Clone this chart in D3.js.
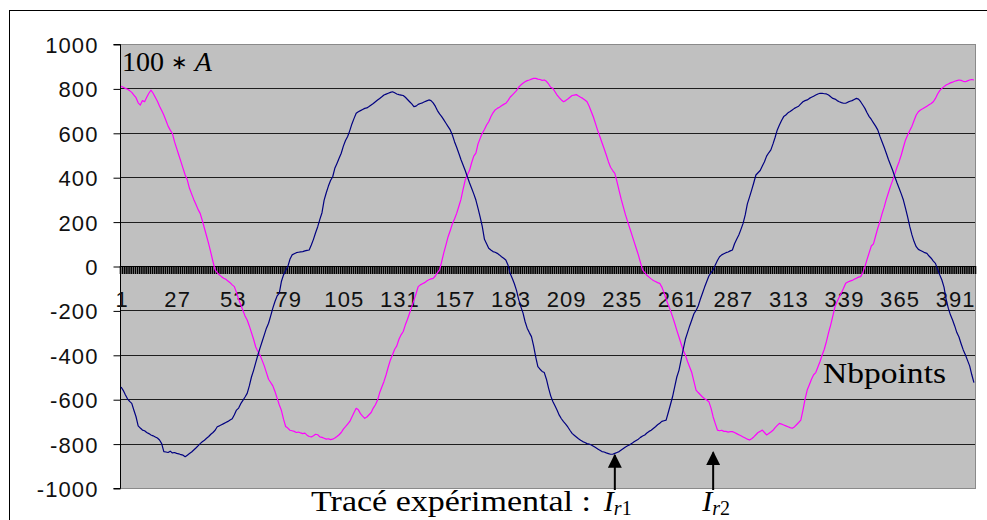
<!DOCTYPE html>
<html>
<head>
<meta charset="utf-8">
<script src="https://cdn.jsdelivr.net/npm/d3@7"></script>
<style>
  html, body { margin: 0; padding: 0; background: #fff; }
  svg { display: block; }
</style>
</head>
<body>
<svg id="chart" width="987" height="520"></svg>
<script>
// Rotor currents (x100 A) sampled over 400 points
const yTicks = [-1000, -800, -600, -400, -200, 0, 200, 400, 600, 800, 1000];
const xTickLabels = [1, 27, 53, 79, 105, 131, 157, 183, 209, 235, 261, 287, 313, 339, 365, 391];

// Ir1 (navy)
const seriesIr1 = [
  -545, -560, -580, -598, -610, -619, -650, -679, -720, -730,
  -739, -742, -750, -755, -761, -765, -770, -775, -784, -800,
  -836, -838, -840, -834, -842, -840, -844, -846, -850, -852,
  -859, -852, -845, -838, -829, -820, -810, -800, -792, -785,
  -776, -768, -758, -750, -740, -724, -720, -715, -710, -705,
  -700, -694, -688, -670, -649, -640, -620, -605, -590, -574,
  -540, -500, -470, -435, -401, -370, -340, -310, -280, -258,
  -225, -190, -160, -135, -123, -70, -40, -20, -3, 30,
  50, 55, 60, 62, 64, 65, 68, 70, 72, 95,
  120, 150, 177, 210, 240, 297, 330, 360, 385, 402,
  440, 462, 485, 508, 540, 565, 583, 610, 640, 665,
  688, 695, 700, 705, 710, 712, 718, 725, 732, 740,
  748, 755, 762, 770, 774, 778, 782, 785, 780, 775,
  772, 770, 768, 760, 750, 740, 730, 718, 720, 728,
  732, 735, 740, 744, 748, 745, 735, 720, 700, 685,
  673, 658, 643, 628, 613, 590, 560, 535, 508, 480,
  455, 430, 402, 375, 350, 325, 297, 260, 220, 177,
  120, 100, 80, 72, 65, 62, 57, 50, 42, 35,
  27, 5, -33, -55, -80, -110, -150, -183, -210, -250,
  -280, -300, -318, -360, -410, -453, -465, -475, -480, -510,
  -550, -585, -610, -630, -650, -672, -688, -701, -712, -725,
  -740, -754, -762, -770, -778, -785, -791, -795, -800, -802,
  -806, -812, -818, -824, -830, -836, -838, -842, -845, -848,
  -848, -844, -840, -836, -829, -822, -815, -810, -805, -799,
  -792, -786, -780, -772, -766, -761, -752, -745, -740, -732,
  -724, -715, -708, -700, -697, -694, -660, -625, -589, -545,
  -500, -470, -423, -375, -330, -300, -270, -243, -215, -200,
  -180, -150, -123, -95, -70, -45, -30, -18, 5, 25,
  42, 50, 55, 60, 63, 68, 72, 100, 120, 140,
  165, 192, 230, 280, 310, 342, 375, 410, 420, 430,
  450, 470, 495, 510, 523, 550, 580, 613, 635, 655,
  673, 680, 690, 696, 703, 710, 715, 720, 730, 740,
  745, 748, 755, 760, 765, 770, 775, 778, 778, 776,
  775, 770, 762, 755, 752, 745, 740, 736, 733, 733,
  738, 742, 745, 750, 755, 752, 740, 725, 710, 690,
  673, 660, 645, 630, 613, 585, 560, 535, 508, 480,
  455, 430, 402, 375, 350, 325, 297, 260, 220, 177,
  140, 110, 87, 75, 70, 65, 60, 57, 45, 35,
  22, 12, -15, -40, -63, -95, -150, -190, -220, -243,
  -270, -300, -320, -350, -378, -400, -425, -450, -490, -525
];

// Ir2 (magenta)
const seriesIr2 = [
  810, 805, 800, 796, 790, 782, 770, 758, 735, 725,
  745, 740, 760, 778, 792, 778, 760, 742, 720, 700,
  680, 655, 630, 612, 597, 560, 530, 500, 470, 440,
  410, 387, 350, 325, 300, 278, 255, 237, 205, 170,
  135, 100, 60, 20, -18, -30, -40, -48, -55, -60,
  -68, -75, -85, -93, -120, -150, -175, -200, -225, -243,
  -270, -300, -330, -365, -385, -401, -425, -450, -480, -510,
  -525, -540, -565, -595, -625, -650, -690, -723, -730, -740,
  -742, -745, -750, -748, -752, -755, -753, -762, -768, -770,
  -765, -758, -760, -770, -772, -776, -780, -778, -782, -780,
  -775, -768, -760, -750, -735, -724, -712, -700, -680, -660,
  -641, -648, -665, -676, -686, -680, -670, -660, -640, -625,
  -604, -570, -545, -520, -490, -455, -423, -400, -375, -360,
  -330, -310, -295, -265, -240, -212, -183, -155, -125, -93,
  -85, -80, -75, -68, -62, -58, -56, -45, -30, -18,
  20, 60, 95, 132, 160, 190, 212, 237, 268, 300,
  345, 387, 410, 430, 465, 495, 508, 550, 575, 598,
  615, 635, 650, 672, 690, 703, 710, 715, 722, 728,
  733, 745, 760, 770, 780, 790, 805, 815, 823, 830,
  835, 838, 842, 845, 845, 842, 840, 836, 838, 832,
  820, 805, 800, 785, 770, 758, 748, 740, 745, 752,
  760, 768, 770, 772, 766, 760, 755, 748, 740, 720,
  695, 670, 640, 610, 583, 555, 528, 500, 470, 445,
  430, 417, 380, 340, 300, 265, 230, 200, 170, 140,
  110, 80, 50, 15, -18, -30, -42, -50, -58, -65,
  -70, -75, -78, -95, -120, -150, -175, -200, -228, -258,
  -290, -320, -350, -380, -401, -430, -455, -480, -520, -559,
  -570, -580, -590, -598, -604, -611, -640, -680, -710, -739,
  -742, -740, -745, -745, -748, -746, -746, -750, -755, -760,
  -765, -770, -775, -780, -784, -778, -770, -760, -750, -745,
  -739, -750, -761, -755, -748, -740, -728, -718, -709, -712,
  -716, -720, -724, -728, -731, -725, -715, -705, -694, -650,
  -600, -559, -535, -510, -490, -480, -455, -430, -401, -375,
  -340, -300, -265, -225, -183, -160, -140, -120, -100, -78,
  -72, -68, -65, -60, -55, -50, -48, -30, -3, 30,
  60, 90, 100, 135, 170, 200, 235, 265, 300, 330,
  360, 387, 415, 445, 470, 500, 535, 568, 590, 610,
  630, 655, 680, 695, 703, 708, 714, 720, 726, 732,
  740, 755, 775, 790, 800, 808, 815, 820, 825, 828,
  832, 835, 838, 836, 832, 830, 834, 838, 840, 838
];

const points = d3.range(1, seriesIr1.length + 1);

const svg = d3.select("#chart");
const plot = { left: 120, right: 975, top: 44, bottom: 488 };

// outer frame
svg.append("rect")
  .attr("x", 9.5).attr("y", 10.5)
  .attr("width", 1000).attr("height", 600)
  .attr("fill", "#fff").attr("stroke", "#000").attr("stroke-width", 1);

const x = d3.scaleBand().domain(points).range([plot.left, plot.right]).padding(0);
const y = d3.scaleLinear().domain([-1000, 1000]).range([plot.bottom, plot.top]);
const xc = d => x(d) + x.bandwidth() / 2;

// plot area
svg.append("rect")
  .attr("x", plot.left + 0.5).attr("y", plot.top + 0.5)
  .attr("width", plot.right - plot.left).attr("height", plot.bottom - plot.top)
  .attr("fill", "#c0c0c0").attr("stroke", "#8a8a8a").attr("stroke-width", 1);

// horizontal gridlines
svg.append("g").selectAll("line")
  .data(yTicks.filter(v => v > -1000 && v < 1000 && v !== 0))
  .join("line")
  .attr("x1", plot.left).attr("x2", plot.right)
  .attr("y1", d => Math.round(y(d)) + 0.5).attr("y2", d => Math.round(y(d)) + 0.5)
  .attr("stroke", "#1e1e1e").attr("stroke-width", 1);

// y axis
const yAxis = svg.append("g")
  .attr("transform", `translate(${plot.left + 0.5},0.5)`)
  .call(d3.axisLeft(y).tickValues(yTicks).tickSize(7).tickPadding(15).tickFormat(d => String(d)));
yAxis.select(".domain").attr("stroke", "#000").attr("d", `M-7,${plot.top}H0V${plot.bottom}H-7`);
yAxis.selectAll(".tick line").attr("stroke", "#000");
yAxis.selectAll(".tick text")
  .attr("font-family", "'Liberation Sans', Arial, sans-serif")
  .attr("font-size", 22).attr("letter-spacing", 1.1)
  .attr("fill", "#111").attr("dy", "0.36em");

// category axis through zero, one tick per category boundary
const y0 = Math.round(y(0));
const xAxis = svg.append("g");
xAxis.append("line")
  .attr("x1", plot.left).attr("x2", plot.right)
  .attr("y1", y0 + 0.5).attr("y2", y0 + 0.5)
  .attr("stroke", "#000").attr("stroke-width", 1.2);
xAxis.selectAll("line.tk")
  .data(points.concat([points.length + 1]))
  .join("line").attr("class", "tk")
  .attr("x1", d => (d <= points.length ? x(d) : plot.right) + 0.5)
  .attr("x2", d => (d <= points.length ? x(d) : plot.right) + 0.5)
  .attr("y1", y0).attr("y2", y0 + 8)
  .attr("stroke", "#000").attr("stroke-width", 1.6);
xAxis.selectAll("text")
  .data(xTickLabels)
  .join("text")
  .attr("x", d => xc(d) + 1).attr("y", y0 + 41)
  .attr("text-anchor", "middle")
  .attr("font-family", "'Liberation Sans', Arial, sans-serif")
  .attr("font-size", 22).attr("letter-spacing", 1.1)
  .attr("fill", "#111")
  .text(d => d);

// series lines
const line = d3.line().x((d, i) => xc(points[i])).y(d => y(d));
svg.append("path").datum(seriesIr2)
  .attr("d", line).attr("fill", "none")
  .attr("stroke", "#ff00ff").attr("stroke-width", 1.2).attr("stroke-linejoin", "round");
svg.append("path").datum(seriesIr1)
  .attr("d", line).attr("fill", "none")
  .attr("stroke", "#000080").attr("stroke-width", 1.2).attr("stroke-linejoin", "round");

// annotations
const serif = "'Liberation Serif', 'Times New Roman', serif";
const unit = svg.append("text")
  .attr("x", 122).attr("y", 71)
  .attr("font-family", serif).attr("font-size", 28).attr("fill", "#000");
unit.append("tspan").text("100 ");
unit.append("tspan").attr("font-family", "'DejaVu Sans', sans-serif").attr("font-size", 20)
  .attr("dy", -2).text("\u2217");
unit.append("tspan").attr("dy", 2).text(" ");
unit.append("tspan").attr("font-style", "italic").text("A");

svg.append("text")
  .attr("x", 823).attr("y", 383)
  .attr("font-family", serif).attr("font-size", 29).attr("fill", "#000")
  .attr("textLength", 123).attr("lengthAdjust", "spacingAndGlyphs")
  .text("Nbpoints");

svg.append("text")
  .attr("x", 311).attr("y", 511)
  .attr("font-family", serif).attr("font-size", 30).attr("fill", "#000")
  .attr("textLength", 280).attr("lengthAdjust", "spacingAndGlyphs")
  .text("Trac\u00e9 exp\u00e9rimental :");

// arrows pointing to Ir1 minimum and Ir2
const defs = svg.append("defs");
defs.append("marker").attr("id", "head")
  .attr("viewBox", "0 0 10 10").attr("refX", 9).attr("refY", 5)
  .attr("markerWidth", 7).attr("markerHeight", 7).attr("orient", "auto")
  .append("path").attr("d", "M0,0L10,5L0,10Z").attr("fill", "#000");

const arrows = [
  { point: 232, value: -852, sub: "r1" },
  { point: 278, value: -840, sub: "r2" }
];
arrows.forEach(a => {
  const ax = xc(a.point);
  svg.append("line")
    .attr("x1", ax).attr("x2", ax)
    .attr("y1", 490).attr("y2", y(a.value))
    .attr("stroke", "#000").attr("stroke-width", 2)
    .attr("marker-end", "url(#head)");
  const t = svg.append("text")
    .attr("x", ax - 11).attr("y", 511)
    .attr("font-family", serif).attr("font-size", 30).attr("fill", "#000");
  t.append("tspan").attr("font-style", "italic").text("I");
  t.append("tspan").attr("font-size", 20).attr("dy", 4).attr("font-style", "italic").text(a.sub[0]);
  t.append("tspan").attr("font-size", 20).text(a.sub[1]);
});
</script>
</body>
</html>
